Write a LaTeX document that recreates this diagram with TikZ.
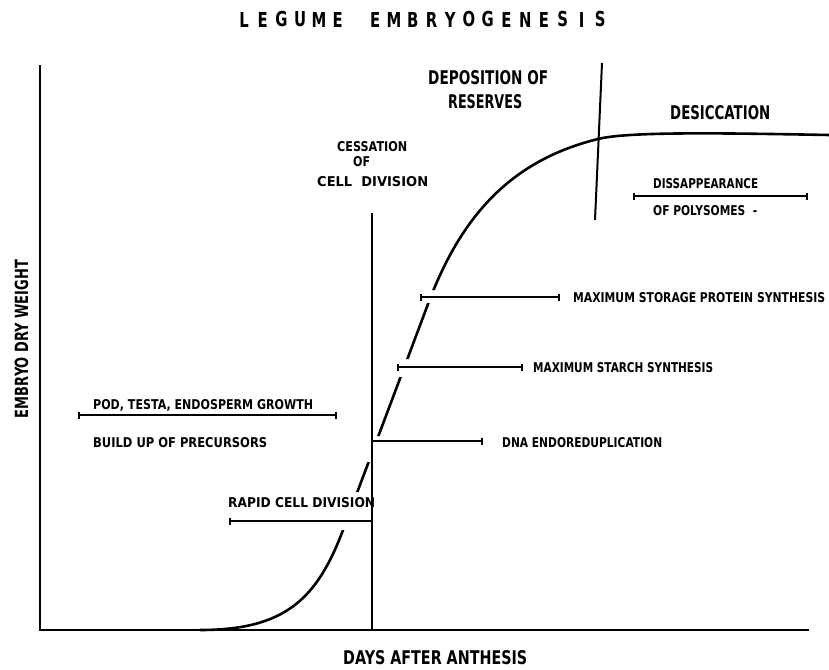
\documentclass[tikz,border=0pt]{standalone}
\usepackage{fontspec}
\usepackage{graphicx}
\setmainfont{DejaVu Sans}
\newfontfamily\titlefont[FakeStretch=0.72]{DejaVu Sans}
\usetikzlibrary{arrows.meta}
\newcommand{\myfit}[3]{\resizebox{#1pt}{#2pt}{#3}}
\begin{document}
\begin{tikzpicture}[x=1pt,y=-1pt,
  axis/.style={line width=2.2pt},
  curve/.style={line width=2.6pt,line join=round},
  divider/.style={line width=2pt},
  span/.style={line width=1.7pt,{Bar[width=7pt,line width=1.7pt]}-{Bar[width=7pt,line width=1.7pt]}},
  spanr/.style={line width=1.7pt,-{Bar[width=7pt,line width=1.7pt]}},
  spanl/.style={line width=1.7pt,{Bar[width=7pt,line width=1.7pt]}-},
  big/.style={inner sep=0pt,anchor=base west,font=\bfseries},
  small/.style={inner sep=0pt,anchor=base west,font=\bfseries},
  titlech/.style={inner sep=0pt,anchor=center,font=\titlefont\bfseries\fontsize{20.6}{24}\selectfont}]
\useasboundingbox (0,0) rectangle (829,669);
\fill[white] (0,0) rectangle (829,669);

% title
\foreach \ch/\k in {L/0,E/1,G/2,U/3,M/4,E/5,E/7,M/8,B/9,R/10,Y/11,O/12,G/13,E/14,N/15,E/16,S/17,I/18,S/19}
  \node[titlech] (t\k) at ({244+18.75*\k},19.5) {\ch};

% axes
\coordinate (ytop) at (40,65);
\coordinate (orig) at (40,630);
\coordinate (xend) at (809,630);
\draw[axis] (ytop) -- (orig) -- (xend);

% growth curve (broken where the spans cross it)
\coordinate (c0) at (200,630);
\coordinate (c1) at (343.3,529.3);
\coordinate (c2) at (428.3,303.3);
\coordinate (c3) at (598,139);
\coordinate (c4) at (829,135);
\begin{scope}
\clip (0,0) rectangle (829,290) (0,303) rectangle (829,359) (0,377) rectangle (829,436)
      (0,462) rectangle (829,492) (0,530) rectangle (829,640);
\draw[curve] (c0) .. controls (285,630) and (317,599.3) .. (c1)
  -- (c2) .. controls (462.1,213.3) and (513,160) .. (c3)
  .. controls (628,131.5) and (720,133) .. (c4);
\end{scope}

% dividers
\coordinate (d1t) at (372,213);
\coordinate (d1b) at (372,630);
\coordinate (d2t) at (602,63);
\coordinate (d2b) at (595,220);
\draw[divider] (d1t) -- (d1b);
\draw[divider] (d2t) -- (d2b);

% spans
\coordinate (s1l) at (633,196); \coordinate (s1r) at (808,196);
\coordinate (s2l) at (420,297); \coordinate (s2r) at (560,297);
\coordinate (s3l) at (397,367); \coordinate (s3r) at (523,367);
\coordinate (s4l) at (78,415);  \coordinate (s4r) at (337,415);
\coordinate (s5l) at (372,441); \coordinate (s5r) at (483,441);
\coordinate (s6l) at (229,521); \coordinate (s6r) at (372,521);
\draw[span] (s1l) -- (s1r);
\draw[span] (s2l) -- (s2r);
\draw[span] (s3l) -- (s3r);
\draw[span] (s4l) -- (s4r);
\draw[spanr] (s5l) -- (s5r);
\draw[spanl] (s6l) -- (s6r);

% large labels
\node[big] (dep) at (428,84) {\myfit{120}{14}{DEPOSITION OF}};
\node[big] (res) at (448,108) {\myfit{74}{14}{RESERVES}};
\node[big] (des) at (670,119) {\myfit{100}{14}{DESICCATION}};
\node[big] (days) at (343,664) {\myfit{184}{14}{DAYS AFTER ANTHESIS}};
\node[inner sep=0pt,rotate=90,anchor=center,font=\bfseries] (ylab) at (21.5,339) {\myfit{158}{13.5}{EMBRYO DRY WEIGHT}};

% small labels
\node[small] (ces) at (337,151.7) {\myfit{70}{10}{CESSATION}};
\node[small] (of) at (353,166.7) {\myfit{17}{10}{OF}};
\node[small] (celld) at (317,186) {\myfit{111}{10}{CELL\ \ DIVISION}};
\node[small] (disap) at (653,188) {\myfit{105}{10}{DISSAPPEARANCE}};
\node[small] (poly) at (653,215) {\myfit{104}{10}{OF POLYSOMES\ \ -}};
\node[small] (msp) at (573,302) {\myfit{252}{10}{MAXIMUM STORAGE PROTEIN SYNTHESIS}};
\node[small] (mss) at (533,372) {\myfit{180}{10}{MAXIMUM STARCH SYNTHESIS}};
\node[small] (pod) at (93,409) {\myfit{220}{10}{POD, TESTA, ENDOSPERM GROWTH}};
\node[small] (bup) at (93,447) {\myfit{174}{10}{BUILD UP OF PRECURSORS}};
\node[small] (dna) at (502,447) {\myfit{160}{10}{DNA ENDOREDUPLICATION}};
\node[small] (rcd) at (228,507) {\myfit{147}{10}{RAPID CELL DIVISION}};
\end{tikzpicture}
\end{document}
